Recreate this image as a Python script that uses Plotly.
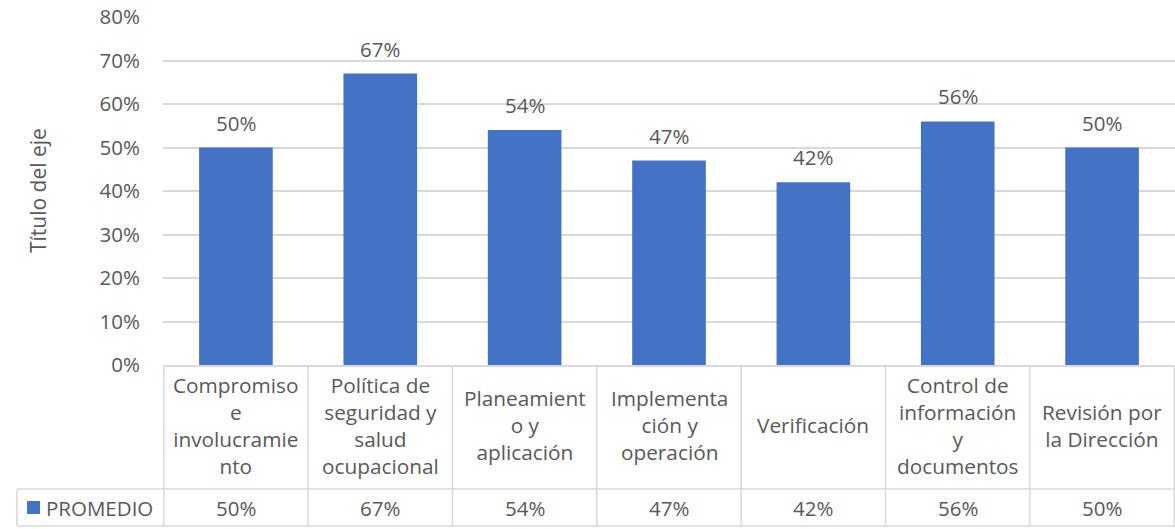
import plotly.graph_objects as go

categories = ["Compromiso e involucramiento", "Política de seguridad y salud ocupacional",
              "Planeamiento y aplicación", "Implementación y operación", "Verificación",
              "Control de información y documentos", "Revisión por la Dirección"]
table_labels = ["Compromiso<br>e<br>involucramie<br>nto", "Política de<br>seguridad y<br>salud<br>ocupacional",
                "Planeamient<br>o y<br>aplicación", "Implementa<br>ción y<br>operación", "Verificación",
                "Control de<br>información<br>y<br>documentos", "Revisión por<br>la Dirección"]
promedio = [0.50, 0.67, 0.54, 0.47, 0.42, 0.56, 0.50]
series_name = "PROMEDIO"
y_title = "Título del eje"

W, H = 1175, 529
FONT = "Open Sans"
TXT = "#595959"
GRID = "#D9D9D9"
BAR = "#4472C4"
FS = 20.5

def px(x):
    return x / W

def py(y):
    return 1 - y / H

fig = go.Figure()
fig.add_trace(go.Bar(x=categories, y=promedio, marker=dict(color=BAR, line=dict(width=0)),
                     name=series_name, showlegend=False, hoverinfo="skip"))

ann = []
shapes = []
# data labels
for c, v in zip(categories, promedio):
    ann.append(dict(x=c, y=v, xref="x", yref="y", text=f"{round(v*100)}%", showarrow=False,
                    yanchor="bottom", yshift=9, font=dict(size=FS, color=TXT, family=FONT)))
# table text
for c, lab, v in zip(categories, table_labels, promedio):
    ann.append(dict(x=c, y=py(425), xref="x", yref="paper", text=lab, showarrow=False,
                    yanchor="middle", font=dict(size=20.8, color=TXT, family=FONT)))
    ann.append(dict(x=c, y=py(508), xref="x", yref="paper", text=f"{round(v*100)}%", showarrow=False,
                    yanchor="middle", font=dict(size=FS, color=TXT, family=FONT)))
# legend cell
ann.append(dict(x=px(44), y=py(508), xref="paper", yref="paper", text=series_name, showarrow=False,
                xanchor="left", yanchor="middle", font=dict(size=FS, color=TXT, family=FONT)))
shapes.append(dict(type="rect", xref="paper", yref="paper", x0=px(27), x1=px(40), y0=py(514), y1=py(501),
                   fillcolor=BAR, line=dict(width=0)))
# axis title
ann.append(dict(x=px(22), y=py(191), xref="paper", yref="paper", text=y_title, showarrow=False,
                textangle=-90, font=dict(size=21, color=TXT, family=FONT)))

# table lines
line = dict(color=GRID, width=1.5)
for i in range(len(categories) + 1):
    shapes.append(dict(type="line", xref="x", yref="paper", x0=i - 0.5, x1=i - 0.5,
                       y0=py(365), y1=py(526), line=line))
shapes.append(dict(type="line", xref="paper", yref="paper", x0=px(17), x1=1, y0=py(489), y1=py(489), line=line))
shapes.append(dict(type="line", xref="paper", yref="paper", x0=px(17), x1=1, y0=py(526), y1=py(526), line=line))
shapes.append(dict(type="line", xref="paper", yref="paper", x0=px(17), x1=px(17), y0=py(489), y1=py(526), line=line))

fig.update_layout(
    width=W, height=H, autosize=False,
    margin=dict(l=0, r=0, t=0, b=0),
    paper_bgcolor="white", plot_bgcolor="white",
    font=dict(family=FONT, size=FS, color=TXT),
    bargap=0.49,
    annotations=ann, shapes=shapes,
    xaxis=dict(domain=[px(163), 1], showticklabels=False, ticks="", showgrid=False,
               showline=True, linecolor=GRID, linewidth=1.5, automargin=False),
    yaxis=dict(domain=[py(365), py(17)], range=[0, 0.8], dtick=0.1, tickformat=".0%",
               showgrid=True, gridcolor=GRID, gridwidth=1.5, zeroline=False, showline=False,
               ticks="", ticklabelstandoff=22, tickfont=dict(size=FS, color=TXT, family=FONT),
               automargin=False),
)

fig.write_html("out.html", config={"displayModeBar": False},
               post_script="document.body.style.margin='0';document.body.style.overflow='hidden';")
